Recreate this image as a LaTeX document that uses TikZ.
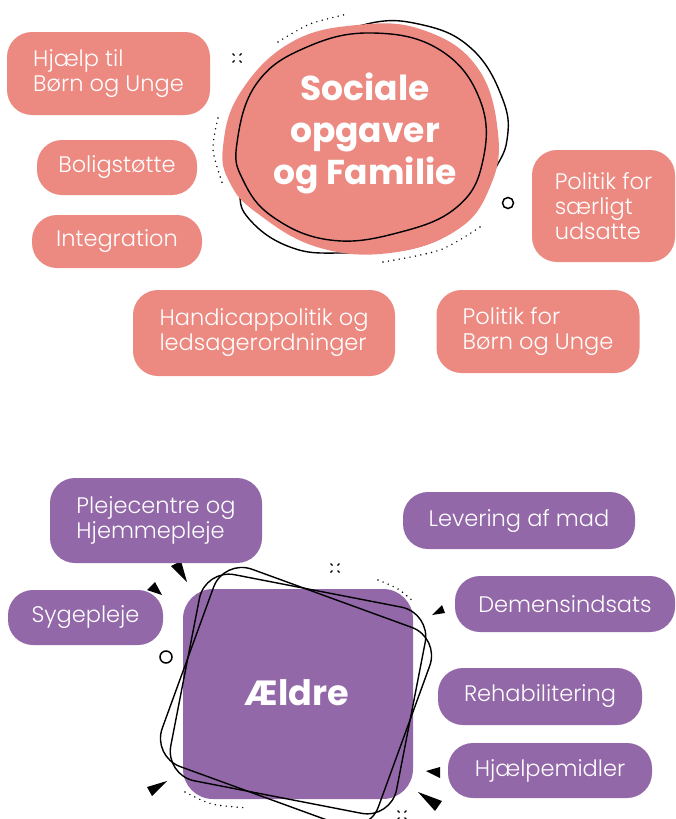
\documentclass[tikz,border=0pt]{standalone}
\usepackage{fontspec}
\setmainfont{Poppins}
\newfontfamily\lightfont{Poppins Light}
\definecolor{scol}{RGB}{236,138,130}
\definecolor{acol}{RGB}{146,104,168}
\tikzset{every picture/.style={x=1pt,y=-1pt}}
\tikzset{sbox/.style={fill=scol,rounded corners=25pt,text=white,align=left,inner sep=0pt,font=\lightfont\fontsize{22.5}{25}\selectfont}}
\tikzset{abox/.style={sbox,fill=acol}}
\tikzset{head/.style={text=white,align=center,font=\bfseries\fontsize{34.5}{42}\selectfont}}
\tikzset{loop/.style={draw=black,line width=1.4pt}}
\tikzset{dotarc/.style={line width=1.6pt,line cap=round,dash pattern=on 0pt off 5.5pt}}
\tikzset{ring/.style={draw=black,line width=1.5pt}}
\newcommand{\crossdots}[1]{\foreach \dx/\dy in {-1/-1,1/-1,-1/1,1/1} \draw [line width=1.3pt] ($(#1)+(2.5*\dx,2.5*\dy)$) -- ($(#1)+(4.5*\dx,4.5*\dy)$);}
\usetikzlibrary{calc}

\begin{document}
\begin{tikzpicture}
\useasboundingbox (0,0) rectangle (676,819);

\draw [loop] plot [smooth cycle,tension=0.7] coordinates {(363,25) (423,25) (473,50) (503,100) (507,140) (493,173) (470,215) (420,246) (340,253) (290,247) (250,220) (240,190) (250,140) (290,60)};
\fill [scol] plot [smooth cycle,tension=0.7] coordinates {(223,147) (240,93) (290,43) (357,25) (423,30) (477,67) (498,133) (490,187) (457,230) (390,253) (317,247) (257,213) (230,183)};
\draw [loop] plot [smooth cycle,tension=0.7] coordinates {(237,143) (257,83) (307,47) (373,33) (440,50) (480,100) (483,160) (457,207) (397,233) (330,240) (273,217) (243,180)};
\node [head] (sociale) at (365,133) {Sociale\\opgaver\\og Familie};

\draw [dotarc] plot [smooth] coordinates {(278,42) (310,24) (348,14)};
\draw [dotarc] plot [smooth] coordinates {(218,118) (213,150) (223,185)};
\draw [dotarc] plot [smooth] coordinates {(383,262) (440,250) (480,227)};
\crossdots{237,58}
\draw [ring] (508,203) circle (5.5);

\node [sbox,minimum width=203,minimum height=83] (hjaelp) at (108.5,73.5) {Hjælp til\\Børn og Unge};
\node [sbox,minimum width=160,minimum height=55] (bolig) at (117,167.5) {Boligstøtte};
\node [sbox,minimum width=170,minimum height=53] (integ) at (117,241.5) {Integration};
\node [sbox,minimum width=143,minimum height=112] (udsat) at (603.5,206) {Politik for\\særligt\\udsatte};
\node [sbox,minimum width=262,minimum height=86] (handi) at (264,333) {Handicappolitik og\\ledsagerordninger};
\node [sbox,minimum width=203,minimum height=83] (pbu) at (538,331.5) {Politik for\\Børn og Unge};

\fill [acol,rounded corners=30pt] (183,589) rectangle (413,799);
\draw [loop,rounded corners=30pt,rotate around={-11:(298,694)}] (183,589) rectangle (413,799);
\draw [loop,rounded corners=30pt,rotate around={-20:(296,697)}] (181,592) rectangle (411,802);
\node [head,font=\bfseries\fontsize{35}{42}\selectfont] (aeldre) at (297,693) {Ældre};

\draw [dotarc] plot [smooth] coordinates {(378,580) (398,589) (415,603)};
\draw [dotarc] plot [smooth] coordinates {(185,792) (212,804) (248,808)};
\crossdots{335,568}
\crossdots{402,815}
\draw [ring] (166,657) circle (6);

\fill (187,582) -- (171,566) -- (181,561) -- cycle;
\fill (162,595) -- (147,590) -- (155,582) -- cycle;
\fill (432,615) -- (442,605) -- (445,613) -- cycle;
\fill (426,771) -- (440,767) -- (440,778) -- cycle;
\fill (418,792) -- (435,811) -- (442,801) -- cycle;
\fill (167,781) -- (147,787) -- (152,796) -- cycle;

\node [abox,minimum width=212,minimum height=85] (pleje) at (156,520.5) {Plejecentre og\\Hjemmepleje};
\node [abox,minimum width=155,minimum height=55] (syge) at (85.5,617.5) {Sygepleje};
\node [abox,minimum width=232,minimum height=57] (mad) at (519,520.5) {Levering af mad};
\node [abox,minimum width=220,minimum height=56] (demens) at (565,604) {Demensindsats};
\node [abox,minimum width=204,minimum height=57] (rehab) at (540,696.5) {Rehabilitering};
\node [abox,minimum width=204,minimum height=55] (hjm) at (550,770.5) {Hjælpemidler};
\end{tikzpicture}
\end{document}
